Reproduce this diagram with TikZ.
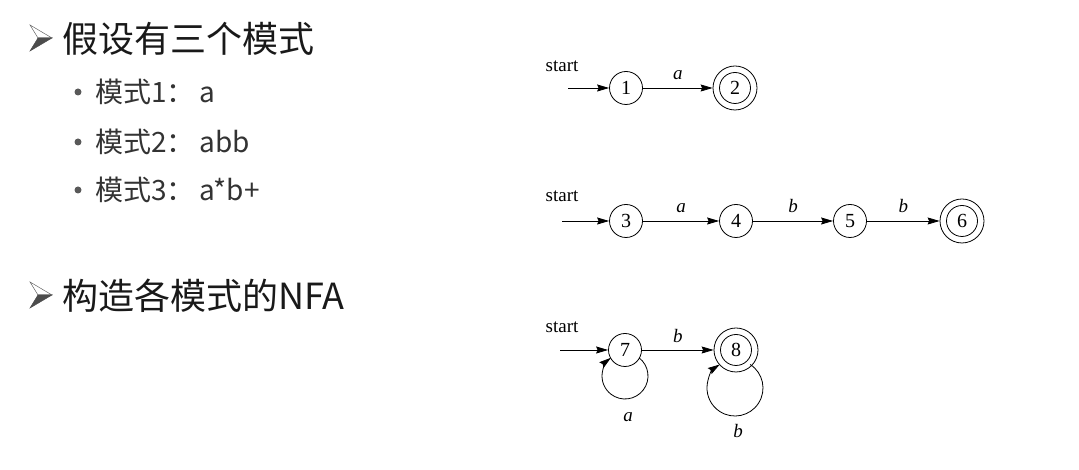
\documentclass[tikz,border=0pt]{standalone}
\usepackage{fontspec}
\setmainfont{Liberation Serif}
\newfontfamily\cjk{Noto Sans CJK SC}
\usetikzlibrary{arrows.meta}
\tikzset{
  marker/.pic={
    \filldraw[fill=white,draw=black!60,line width=0.5pt] (-22,13) -- (0,0) -- (-14,0) -- cycle;
    \filldraw[fill=black!70,draw=black!70,line width=0.5pt] (-14,0) -- (0,0) -- (-22,-13) -- cycle;
  }
}
\begin{document}
\begin{tikzpicture}[x=1pt,y=1pt,
  state/.style={circle,draw,line width=0.8pt,minimum size=33pt,inner sep=0pt,font=\fontsize{20}{20}\selectfont},
  accept/.style={state,minimum size=44pt,path picture={\draw[line width=0.8pt] (path picture bounding box.center) circle (15.5pt);}},
  trans/.style={line width=0.8pt,-{Stealth[length=12pt,width=7pt,inset=1.5pt]}},
  lbl/.style={font=\fontsize{19}{19}\selectfont\itshape,anchor=base,yshift=8pt,inner sep=0pt},
  looplbl/.style={font=\fontsize{19}{19}\selectfont\itshape,anchor=base,inner sep=0pt},
  startlbl/.style={font=\fontsize{19}{19}\selectfont,inner sep=0pt},
  title/.style={font=\cjk\fontsize{36}{36}\selectfont,text=black!90,anchor=west,inner sep=0pt},
  item/.style={font=\cjk\fontsize{28}{28}\selectfont,text=black!80,anchor=west,inner sep=0pt},
  dot/.style={circle,fill=black!65,minimum size=7pt,inner sep=0pt},
]
\useasboundingbox (0,0) rectangle (1079,470);

% left text
\pic at (52,432) {marker};
\node[title] (t1) at (62,431) {假设有三个模式};
\node[dot] (d1) at (78,378) {};
\node[item] (i1) at (95,378) {模式1：\hspace{5pt}a};
\node[dot] (d2) at (78,328) {};
\node[item] (i2) at (95,328) {模式2：\hspace{5pt}abb};
\node[dot] (d3) at (78,280) {};
\node[item] (i3) at (95,280) {模式3：\hspace{5pt}a*b+};
\pic at (52,175) {marker};
\node[title] (t2) at (62,174) {构造各模式的NFA};

% NFA 1
\node[startlbl] (st1) at (562,404) {start};
\coordinate (s1) at (568,382);
\node[state] (n1) at (626,382) {1};
\node[accept] (n2) at (735,382) {2};
\draw[trans] (s1) -- (n1);
\draw[trans] (n1) -- node[lbl] {a} (n2);

% NFA 2
\node[startlbl] (st2) at (562,274) {start};
\coordinate (s2) at (562,249);
\node[state] (n3) at (626,249) {3};
\node[state] (n4) at (736,249) {4};
\node[state] (n5) at (850,249) {5};
\node[accept] (n6) at (962,249) {6};
\draw[trans] (s2) -- (n3);
\draw[trans] (n3) -- node[lbl] {a} (n4);
\draw[trans] (n4) -- node[lbl] {b} (n5);
\draw[trans] (n5) -- node[lbl] {b} (n6);

% NFA 3
\node[startlbl] (st3) at (562,143) {start};
\coordinate (s3) at (560,120);
\node[state] (n7) at (625,120) {7};
\node[accept] (n8) at (736,120) {8};
\draw[trans] (s3) -- (n7);
\draw[trans] (n7) -- node[lbl,yshift=-1pt] {b} (n8);
\draw[trans] ([shift={(14,-7.75)}]n7.center) arc[start angle=52.5, end angle=-232.5, radius=23];
\draw[trans] ([shift={(14.2,-14.5)}]n8.center) arc[start angle=57.1, end angle=-237.1, radius=28];
\node[looplbl] (la) at (628,48) {a};
\node[looplbl] (lb) at (738,32) {b};
\end{tikzpicture}
\end{document}
